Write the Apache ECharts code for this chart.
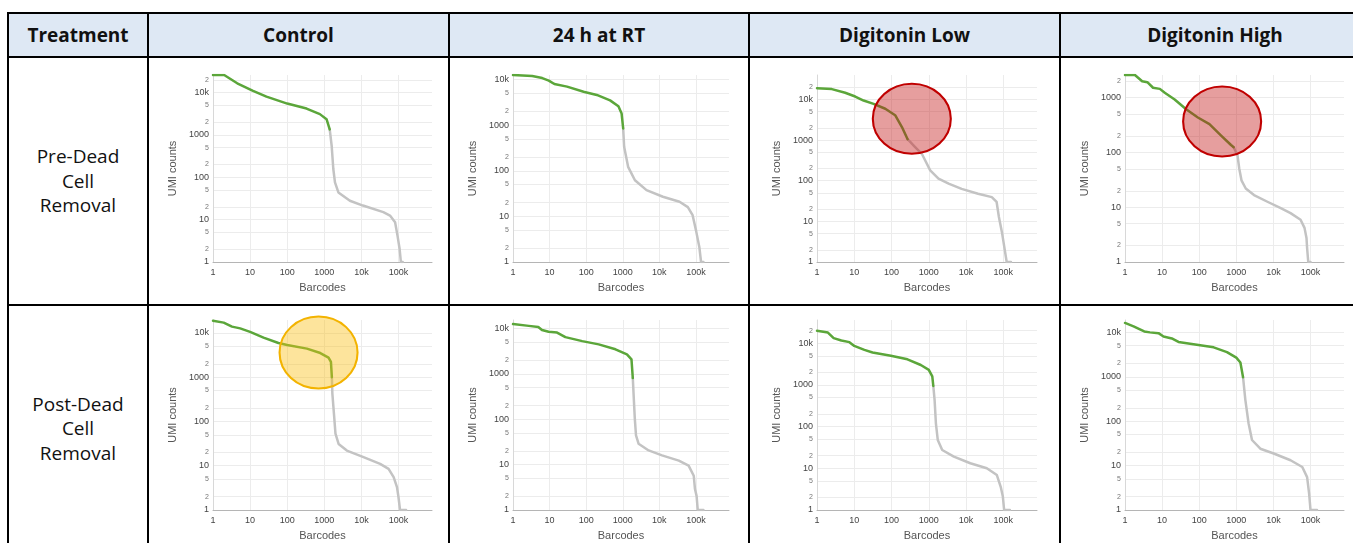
<!DOCTYPE html>
<html>
<head>
<meta charset="utf-8">
<script src="https://cdn.jsdelivr.net/npm/echarts@6/dist/echarts.min.js"></script>
<style>
html,body{margin:0;padding:0;background:#fff;width:1353px;height:543px;overflow:hidden;}
#tbl{position:absolute;left:0;top:0;width:1353px;height:543px;}
.cell{position:absolute;box-sizing:border-box;display:flex;align-items:center;justify-content:center;text-align:center;font-family:"Open Sans",sans-serif;color:#111;}
.hdr{background:#dee8f4;font-weight:bold;font-size:19px;}
.lbl{font-size:19px;line-height:24.5px;}
.ln{position:absolute;background:#000;}
#chart{position:absolute;left:0;top:0;width:1353px;height:543px;z-index:2;}
</style>
</head>
<body>
<div id="tbl"></div>
<div id="chart"></div>
<script>
// ---------------- data ----------------
const cornerTitle = 'Treatment';
const columnTitles = ['Control', '24 h at RT', 'Digitonin Low', 'Digitonin High'];
const rowTitles = [['Pre-Dead', 'Cell', 'Removal'], ['Post-Dead', 'Cell', 'Removal']];
const xAxisName = 'Barcodes';
const yAxisName = 'UMI counts';
const xTickValues = [1, 10, 100, 1000, 10000, 100000];
const yTickValues = [1, 2, 5, 10, 20, 50, 100, 200, 500, 1000, 2000, 5000, 10000, 20000, 50000];
const xAxisMax = 800000;
// y-axis upper bound per panel (row-major: pre row, then post row)
const yAxisMax = [26000, 12600, 40000, 2600, 19500, 15500, 36000, 19000];

// [barcode rank, UMI count]  -- cells (green) and background (grey)
const controlPreCells = [[1,26000],[2,26000],[4.5,16600],[12,11000],[27.6,8000],[100,5500],[332,4200],[760,3100],[1150,2350],[1400,1350]];
const controlPreBackground = [[1400,1350],[1580,556],[1750,157],[1940,76],[2400,44],[4900,28],[11000,21.5],[39000,15],[59000,12.5],[81000,8.7],[94000,4.2],[107000,2.06],[116000,1],[130000,1]];

const rt24PreCells = [[1,12600],[3.35,12000],[6.3,10800],[9.5,9500],[13.5,8000],[30,7000],[85,5400],[195,4600],[450,3500],[760,2600],[930,1800],[1025,850]];
const rt24PreBackground = [[1025,850],[1090,337],[1400,122],[2150,62],[4450,37.6],[12500,27],[35600,21],[60000,16],[81000,10.6],[100000,5],[124000,2.1],[138000,1],[160000,1]];

const digLowPreCells = [[1,19000],[2.5,18000],[5.7,14600],[10.6,11800],[17.8,9400],[33,7800],[68,5900],[125,4100],[190,2100],[270,1050]];
const digLowPreBackground = [[270,1050],[430,676],[650,460],[1090,180],[1820,112],[3400,85],[7600,63],[21000,48],[49000,39.5],[66000,30],[76000,12.8],[93000,5],[110000,1.9],[123000,1],[160000,1]];

const digHighPreCells = [[1,2600],[1.85,2600],[2.9,2000],[4,1920],[5.7,1520],[8.7,1450],[11.8,1230],[21.8,930],[44.5,617],[92,436],[189,330],[390,204],[720,137],[850,125]];
const digHighPreBackground = [[850,125],[1080,88],[1200,51],[1380,31],[1800,22],[3000,16.7],[6900,12.6],[15800,9.6],[29000,7.8],[54000,5.9],[69000,4.2],[78000,2.75],[81000,1.8],[87000,1],[100000,1]];

const controlPostCells = [[1,18700],[1.94,17000],[3.25,13800],[5.4,12600],[10,10500],[23,7800],[58,5900],[100,5300],[340,4400],[780,3500],[1300,2760],[1510,2200],[1600,1000]];
const controlPostBackground = [[1600,1000],[1650,425],[1850,125],[2000,53],[2430,31],[4050,22],[11400,15.6],[32000,11],[54000,8.5],[74000,5.5],[91000,3.3],[100000,1.94],[110000,1],[160000,1]];

const rt24PostCells = [[1,12600],[2.7,11500],[4.9,10900],[6.2,9300],[9.4,8500],[16,8200],[27,6500],[78,5300],[220,4500],[630,3500],[1300,2700],[1730,2100],[1880,810]];
const rt24PostBackground = [[1880,810],[2000,292],[2130,105],[2300,44],[2700,29],[5100,20.6],[11800,16],[34000,12.3],[63000,9.5],[87000,5.7],[94000,2.9],[104000,2.05],[112000,1],[160000,1]];

const digLowPostCells = [[1,19900],[1.96,18000],[2.8,13200],[4.5,11600],[7.4,10600],[10,8600],[18.7,6900],[31,6000],[96,5000],[267,4100],[610,3000],[1000,2300],[1240,1600],[1320,947]];
const digLowPostBackground = [[1320,947],[1430,437],[1550,120],[1740,48],[2290,27.5],[4700,19],[13000,13.2],[36000,10],[67000,6.9],[85000,3.6],[97000,2.1],[105000,1],[150000,1]];

const digHighPostCells = [[1,16300],[1.7,13700],[3.3,10500],[4.7,10000],[8,9600],[10.9,8100],[18.3,7300],[27.6,6100],[70,5400],[245,4600],[560,3600],[1000,2700],[1290,2100],[1520,980]];
const digHighPostBackground = [[1520,980],[1750,306],[2140,90],[2650,37.7],[4450,24],[10200,18.7],[29000,13.2],[60000,9.3],[81000,5.5],[92000,2.3],[100000,1],[150000,1]];

// highlight ellipses: [panel index, barcode rank, UMI count]
const redHighlights = [[2, 350, 3350], [3, 415, 368]];
const yellowHighlights = [[4, 700, 3590]];

const panelCells = [controlPreCells, rt24PreCells, digLowPreCells, digHighPreCells, controlPostCells, rt24PostCells, digLowPostCells, digHighPostCells];
const panelBackground = [controlPreBackground, rt24PreBackground, digLowPreBackground, digHighPreBackground, controlPostBackground, rt24PostBackground, digLowPostBackground, digHighPostBackground];

// ---------------- table (HTML) ----------------
const colEdges = [8, 148, 449, 749, 1060, 1370];
const rowEdges = [13, 57, 305, 552];
const tbl = document.getElementById('tbl');
function addDiv(cls, l, t, w, h, html) {
  const d = document.createElement('div');
  d.className = cls;
  d.style.left = l + 'px'; d.style.top = t + 'px';
  d.style.width = w + 'px'; d.style.height = h + 'px';
  if (html !== undefined) d.innerHTML = html;
  tbl.appendChild(d);
  return d;
}
addDiv('cell hdr', colEdges[0], rowEdges[0], colEdges[5] - colEdges[0], rowEdges[1] - rowEdges[0]);
addDiv('cell hdr', colEdges[0], rowEdges[0], colEdges[1] - colEdges[0], rowEdges[1] - rowEdges[0], cornerTitle);
columnTitles.forEach((t, i) => addDiv('cell hdr', colEdges[i + 1], rowEdges[0], colEdges[i + 2] - colEdges[i + 1], rowEdges[1] - rowEdges[0], t));
rowTitles.forEach((lines, r) => addDiv('cell lbl', colEdges[0], rowEdges[r + 1], colEdges[1] - colEdges[0], rowEdges[r + 2] - rowEdges[r + 1], lines.join('<br>')));
rowEdges.slice(0, 3).forEach(y => addDiv('ln', colEdges[0] - 1, y - 1, 1353, 2));
colEdges.slice(0, 5).forEach(x => addDiv('ln', x - 1, rowEdges[0] - 1, 2, 543));

// ---------------- charts (ECharts) ----------------
const plotLeft = [213, 513, 817, 1125];
const plotWidth = [219, 216, 220, 219];
const plotTop = [75, 320];
const plotHeight = [187, 190];

function fmtNum(v) {
  if (v >= 1000000) return (v / 1000000) + 'M';
  if (v >= 10000) return (v / 1000) + 'k';
  return String(v);
}
function isDecade(v) {
  const e = Math.log10(v);
  return Math.abs(e - Math.round(e)) < 1e-6;
}

const grids = [], xAxes = [], yAxes = [], series = [];
for (let i = 0; i < 8; i++) {
  const r = Math.floor(i / 4), c = i % 4;
  grids.push({left: plotLeft[c], top: plotTop[r], width: plotWidth[c], height: plotHeight[r], containLabel: false, outerBoundsMode: 'none'});
  xAxes.push({
    type: 'log', logBase: 10, gridIndex: i, min: 1, max: xAxisMax,
    name: xAxisName, nameLocation: 'middle', nameGap: 20,
    nameTextStyle: {fontSize: 11, color: '#555', fontFamily: 'Liberation Sans'},
    axisLine: {show: true, lineStyle: {color: '#b5b5b5', width: 1}},
    axisTick: {show: false, customValues: xTickValues},
    axisLabel: {customValues: xTickValues, fontSize: 9, color: '#444', fontFamily: 'Liberation Sans', margin: 6,
      formatter: v => fmtNum(Math.round(v))},
    splitLine: {show: true, lineStyle: {color: '#ececec', width: 1}},
    minorTick: {show: false}, minorSplitLine: {show: false}
  });
  yAxes.push({
    type: 'log', logBase: 10, gridIndex: i, min: 1, max: yAxisMax[i],
    name: yAxisName, nameLocation: 'middle', nameGap: 35,
    nameTextStyle: {fontSize: 11, color: '#555', fontFamily: 'Liberation Sans'},
    axisLine: {show: true, lineStyle: {color: '#d8d8d8', width: 1}},
    axisTick: {show: false, customValues: yTickValues},
    axisLabel: {customValues: yTickValues, margin: 4, fontFamily: 'Liberation Sans',
      formatter: v => {
        const n = Math.round(v);
        return isDecade(n) ? '{d|' + fmtNum(n) + '}' : '{m|' + String(n).charAt(0) + '}';
      },
      rich: {d: {fontSize: 9, color: '#444', fontFamily: 'Liberation Sans'}, m: {fontSize: 7, color: '#777', fontFamily: 'Liberation Sans'}}},
    splitLine: {show: true, lineStyle: {color: '#ececec', width: 1}},
    minorTick: {show: false}, minorSplitLine: {show: false}
  });
  series.push({type: 'line', xAxisIndex: i, yAxisIndex: i, data: panelBackground[i], symbol: 'none', showSymbol: false,
    lineStyle: {color: '#c3c3c3', width: 2.5, join: 'round', cap: 'round'}, itemStyle: {color: '#c3c3c3'}, z: 3, silent: true});
  series.push({type: 'line', xAxisIndex: i, yAxisIndex: i, data: panelCells[i], symbol: 'none', showSymbol: false,
    lineStyle: {color: '#5ba63a', width: 2.5, join: 'round', cap: 'round'}, itemStyle: {color: '#5ba63a'}, z: 4, silent: true});
}
redHighlights.forEach(h => series.push({type: 'scatter', xAxisIndex: h[0], yAxisIndex: h[0], data: [[h[1], h[2]]],
  symbol: 'circle', symbolSize: [78, 70], silent: true, z: 10,
  itemStyle: {color: 'rgba(195,25,25,0.42)', borderColor: '#c00000', borderWidth: 2, opacity: 1}}));
yellowHighlights.forEach(h => series.push({type: 'scatter', xAxisIndex: h[0], yAxisIndex: h[0], data: [[h[1], h[2]]],
  symbol: 'circle', symbolSize: [78, 72], silent: true, z: 10,
  itemStyle: {color: 'rgba(250,190,20,0.42)', borderColor: '#f3b300', borderWidth: 2, opacity: 1}}));

const chart = echarts.init(document.getElementById('chart'), null, {renderer: 'canvas', width: 1353, height: 543});
chart.setOption({
  animation: false,
  backgroundColor: 'transparent',
  grid: grids, xAxis: xAxes, yAxis: yAxes, series: series
});
</script>
</body>
</html>
